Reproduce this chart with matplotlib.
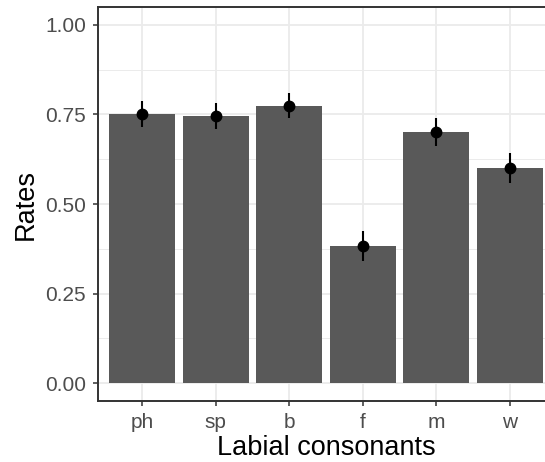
import matplotlib
matplotlib.use("Agg")
import matplotlib.pyplot as plt
import numpy as np

categories = ["ph", "sp", "b", "f", "m", "w"]
rates = [0.752, 0.745, 0.775, 0.383, 0.702, 0.600]
err_low = [0.716, 0.709, 0.739, 0.342, 0.663, 0.560]
err_high = [0.788, 0.781, 0.811, 0.424, 0.741, 0.641]

plt.rcParams['font.family'] = ['Liberation Sans', 'DejaVu Sans']

fig = plt.figure(figsize=(5.45, 4.62), dpi=100)
ax = fig.add_axes([98/545, (462-401)/462, (553.9-98)/545, (401-7)/462])

x = np.arange(1, len(categories) + 1)

# grid
ax.set_axisbelow(True)
for yv in [0.125, 0.375, 0.625, 0.875]:
    ax.axhline(yv, color="#EBEBEB", lw=0.7, zorder=0)
for yv in [0, 0.25, 0.5, 0.75, 1.0]:
    ax.axhline(yv, color="#EBEBEB", lw=1.3, zorder=0)
for xv in x:
    ax.axvline(xv, color="#EBEBEB", lw=1.3, zorder=0)

ax.bar(x, rates, width=0.9, color="#595959", zorder=2)
ax.vlines(x, err_low, err_high, color="black", lw=1.5, zorder=3)
ax.plot(x, rates, 'o', color="black", markersize=7.5, zorder=4)

ax.set_xlim(0.4, 6.6)
ax.set_ylim(-0.05, 1.05)
ax.set_xticks(x)
ax.set_xticklabels(categories)
ax.set_yticks([0, 0.25, 0.5, 0.75, 1.0])
ax.set_yticklabels(["0.00", "0.25", "0.50", "0.75", "1.00"])

ax.tick_params(axis='both', colors="#333333", labelcolor="#4D4D4D",
               labelsize=15, length=3.8, width=1.1, pad=5)
for s in ax.spines.values():
    s.set_color("#333333")
    s.set_linewidth(1.4)

ax.set_xlabel("Labial consonants", fontsize=19.5, color="black", labelpad=2)
ax.set_ylabel("Rates", fontsize=19.5, color="black", labelpad=4)

fig.savefig("out.png", dpi=100)
